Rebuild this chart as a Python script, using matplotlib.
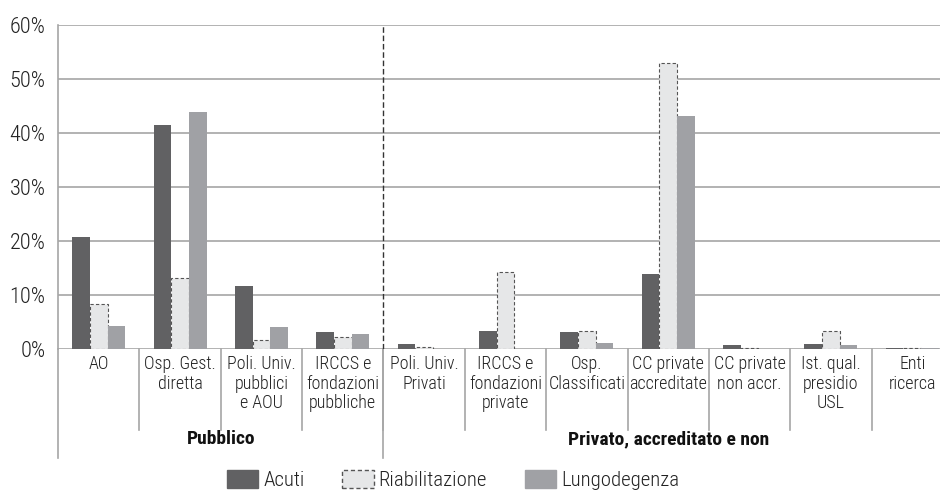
#Grouped bar chart: share of Acuti / Riabilitazione / Lungodegenza by type of facility

import matplotlib
matplotlib.use('Agg')
import matplotlib.pyplot as plt
import matplotlib.transforms as mtransforms
from matplotlib.patches import Patch
import numpy as np

plt.rcParams['font.family'] = ['Roboto Condensed', 'Barlow Condensed', 'DejaVu Sans']

#data
categories = ['AO', 'Osp. Gest.\ndiretta', 'Poli. Univ.\npubblici\ne AOU', 'IRCCS e\nfondazioni\npubbliche',
              'Poli. Univ.\nPrivati', 'IRCCS e\nfondazioni\nprivate', 'Osp.\nClassificati',
              'CC private\naccreditate', 'CC private\nnon accr.', 'Ist. qual.\npresidio\nUSL', 'Enti\nricerca']
acuti = [20.8, 41.4, 11.6, 3.1, 1.0, 3.3, 3.2, 13.8, 0.7, 0.9, 0.2]
riab = [8.3, 13.2, 1.6, 2.2, 0.3, 14.3, 3.4, 52.9, 0.1, 3.4, 0.1]
lungo = [4.3, 43.9, 4.0, 2.7, 0.05, 0.05, 1.1, 43.2, 0.05, 0.7, 0.1]
groups = ['Pubblico', 'Privato, accreditato e non']
group_span = [(0, 3), (4, 10)]
yticks = [0, 10, 20, 30, 40, 50, 60]

c_acuti = '#616163'
c_riab = '#e6e7e8'
c_lungo = '#a0a1a5'
grid_c = '#a6a6a6'
txt_c = '#222222'

fig = plt.figure(figsize=(9.4, 4.92), dpi=100)
ax = fig.add_axes([58/940, (492-349)/492, (953-58)/940, 324/492])

x = np.arange(len(categories))
w = 0.217
ax.bar(x - w, acuti, w, color=c_acuti, zorder=3)
ax.bar(x, riab, w, color=c_riab, edgecolor='#555555', linestyle=(0, (3, 2)), linewidth=0.8, zorder=3)
ax.bar(x + w, lungo, w, color=c_lungo, zorder=3)

ax.set_xlim(-0.5, len(categories) - 0.5)
ax.set_ylim(0, 60)
ax.set_yticks(yticks)
ax.set_yticklabels(['%d%%' % v for v in yticks], fontsize=16, color=txt_c, fontweight='light')
ax.tick_params(axis='y', length=0, pad=9)
ax.set_xticks([])
ax.grid(axis='y', color=grid_c, linewidth=1.2, zorder=0)
for s in ['top', 'right', 'bottom']:
    ax.spines[s].set_visible(False)
ax.spines['left'].set_color(grid_c)
ax.spines['left'].set_linewidth(1.2)

#dashed separator between public and private
ax.plot([3.5, 3.5], [0, 60], color='#333333', linestyle=(0, (4, 2)), linewidth=1, zorder=4)

trans = mtransforms.blended_transform_factory(ax.transData, ax.transAxes)
for i in range(len(categories) - 1):
    ax.plot([i + 0.5, i + 0.5], [0, -0.25], transform=trans, color=grid_c, lw=1.2, clip_on=False)
for xd in [-0.5, 3.5]:
    ax.plot([xd, xd], [0, -0.336], transform=trans, color=grid_c, lw=1.2, clip_on=False)

for i, lab in enumerate(categories):
    ax.text(i, -0.02, lab, transform=trans, ha='center', va='top', fontsize=13,
            color=txt_c, linespacing=1.08, fontweight='light')
for g, (a, b) in zip(groups, group_span):
    ax.text((a + b) / 2, -0.278, g, transform=trans, ha='center', va='center',
            fontsize=14, fontweight='bold', color='#111111')

handles = [Patch(facecolor=c_acuti, edgecolor=c_acuti),
           Patch(facecolor=c_riab, edgecolor='#555555', linestyle=(0, (3, 2))),
           Patch(facecolor=c_lungo, edgecolor=c_lungo)]
leg = fig.legend(handles, ['Acuti', 'Riabilitazione', 'Lungodegenza'], loc='center',
                 bbox_to_anchor=(0.482, 12/492), ncol=3, frameon=False, fontsize=15,
                 handlelength=1.5, handleheight=0.95, columnspacing=1.8, handletextpad=0.25)
for t in leg.get_texts():
    t.set_fontweight('light')
    t.set_color(txt_c)

fig.savefig('out.png', dpi=100)
